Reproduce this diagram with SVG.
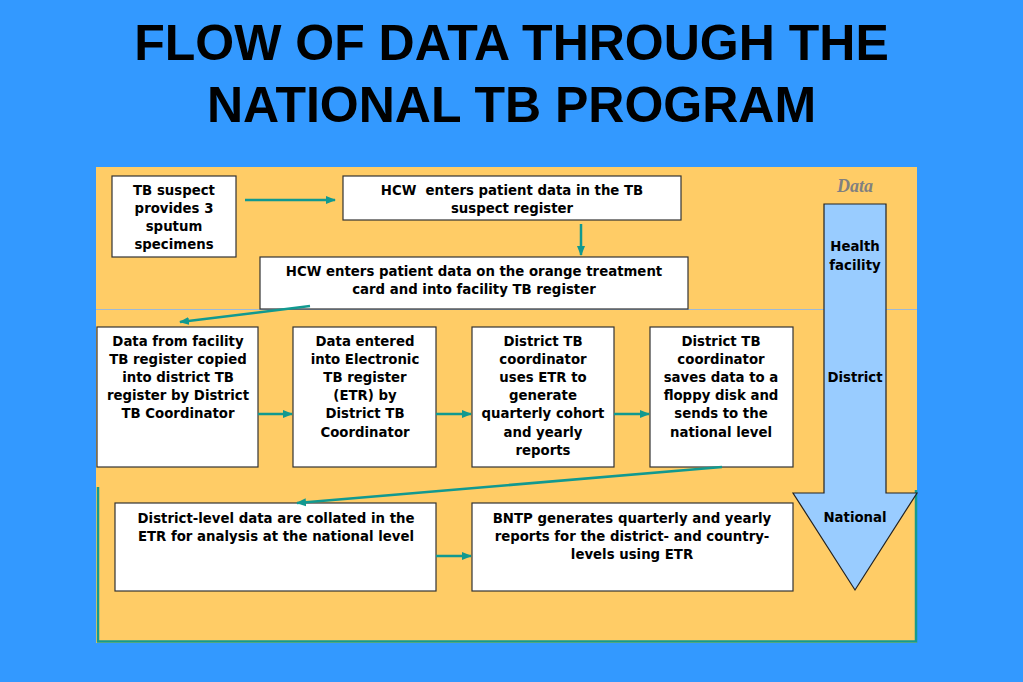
<svg xmlns="http://www.w3.org/2000/svg" width="1023" height="682" viewBox="0 0 1023 682">
<style>
.title{font-family:"Liberation Sans",Arial,sans-serif;font-weight:bold;font-size:50px;fill:#000;text-anchor:middle}
.box{fill:#fff;stroke:#333;stroke-width:1.2}
.t{font-family:"DejaVu Sans",Verdana,sans-serif;font-weight:bold;font-size:13.3px;fill:#000;text-anchor:middle}
.lv{font-family:"DejaVu Sans",Verdana,sans-serif;font-weight:bold;font-size:13.3px;fill:#000;text-anchor:middle}
.conn{stroke:#119990;stroke-width:2.5;fill:none;marker-end:url(#ah)}
</style>
<defs>
<marker id="ah" viewBox="0 0 10 10" refX="9" refY="5" markerWidth="4" markerHeight="4" orient="auto" markerUnits="strokeWidth">
<path d="M0,1 L10,5 L0,9 Z" fill="#119990"/>
</marker>
</defs>
<rect x="0" y="0" width="1023" height="682" fill="#3399FF"/>
<g id="title">
<text class="title" x="511.5" y="60">FLOW OF DATA THROUGH THE</text>
<text class="title" x="511.5" y="121.5">NATIONAL TB PROGRAM</text>
</g>
<g id="background">
<rect x="96" y="167" width="821" height="476" fill="#FFCC66"/>
<line x1="96" y1="309.5" x2="917" y2="309.5" stroke="#9DB9D6" stroke-width="1.2"/>
<path d="M98,487 V641.5 H916 V490" fill="none" stroke="#169A8C" stroke-width="2.5"/>
</g>
<g id="level-arrow">
<text x="855" y="192" font-family="'Liberation Serif','Times New Roman',serif" font-style="italic" font-weight="bold" font-size="18" fill="#808080" text-anchor="middle">Data</text>
<path d="M824,204 H886 V493 H917 L855,590 L793,493 H824 Z" fill="#99CCFF" stroke="#222" stroke-width="1.2"/>
<text class="lv" x="855" y="251">Health</text>
<text class="lv" x="855" y="270">facility</text>
<text class="lv" x="855" y="382">District</text>
<text class="lv" x="855" y="522">National</text>
</g>
<g id="n1">
<rect class="box" x="112" y="176" width="124" height="81"/>
<text class="t" x="174" y="195">TB suspect</text>
<text class="t" x="174" y="213">provides 3</text>
<text class="t" x="174" y="231">sputum</text>
<text class="t" x="174" y="249">specimens</text>
</g>
<g id="n2">
<rect class="box" x="343" y="176" width="338" height="44"/>
<text class="t" x="512" y="195" xml:space="preserve">HCW  enters patient data in the TB</text>
<text class="t" x="512" y="213">suspect register</text>
</g>
<g id="n3">
<rect class="box" x="260" y="257" width="428" height="52"/>
<text class="t" x="474" y="276">HCW enters patient data on the orange treatment</text>
<text class="t" x="474" y="294">card and into facility TB register</text>
</g>
<g id="n4">
<rect class="box" x="97" y="327" width="161" height="140"/>
<text class="t" x="178" y="346">Data from facility</text>
<text class="t" x="178" y="364">TB register copied</text>
<text class="t" x="178" y="382">into district TB</text>
<text class="t" x="178" y="400">register by District</text>
<text class="t" x="178" y="418">TB Coordinator</text>
</g>
<g id="n5">
<rect class="box" x="293" y="327" width="143" height="140"/>
<text class="t" x="365" y="346">Data entered</text>
<text class="t" x="365" y="364">into Electronic</text>
<text class="t" x="365" y="382">TB register</text>
<text class="t" x="365" y="400">(ETR) by</text>
<text class="t" x="365" y="418">District TB</text>
<text class="t" x="365" y="437">Coordinator</text>
</g>
<g id="n6">
<rect class="box" x="472" y="327" width="142" height="140"/>
<text class="t" x="543" y="346">District TB</text>
<text class="t" x="543" y="364">coordinator</text>
<text class="t" x="543" y="382">uses ETR to</text>
<text class="t" x="543" y="400">generate</text>
<text class="t" x="543" y="418">quarterly cohort</text>
<text class="t" x="543" y="437">and yearly</text>
<text class="t" x="543" y="455">reports</text>
</g>
<g id="n7">
<rect class="box" x="650" y="327" width="143" height="140"/>
<text class="t" x="721" y="346">District TB</text>
<text class="t" x="721" y="364">coordinator</text>
<text class="t" x="721" y="382">saves data to a</text>
<text class="t" x="721" y="400">floppy disk and</text>
<text class="t" x="721" y="418">sends to the</text>
<text class="t" x="721" y="437">national level</text>
</g>
<g id="n8">
<rect class="box" x="115" y="503" width="321" height="88"/>
<text class="t" x="276" y="523">District-level data are collated in the</text>
<text class="t" x="276" y="541">ETR for analysis at the national level</text>
</g>
<g id="n9">
<rect class="box" x="472" y="503" width="321" height="88"/>
<text class="t" x="632" y="523">BNTP generates quarterly and yearly</text>
<text class="t" x="632" y="541">reports for the district- and country-</text>
<text class="t" x="632" y="559">levels using ETR</text>
</g>
<g id="connectors">
<line class="conn" x1="245" y1="200" x2="335" y2="200"/>
<line class="conn" x1="581" y1="224" x2="581" y2="255"/>
<line class="conn" x1="310" y1="306" x2="180" y2="322"/>
<line class="conn" x1="258" y1="414" x2="292" y2="414"/>
<line class="conn" x1="436" y1="414" x2="471" y2="414"/>
<line class="conn" x1="614" y1="414" x2="649" y2="414"/>
<line class="conn" x1="722" y1="467" x2="297" y2="503"/>
<line class="conn" x1="436" y1="556" x2="471" y2="556"/>
</g>
</svg>
